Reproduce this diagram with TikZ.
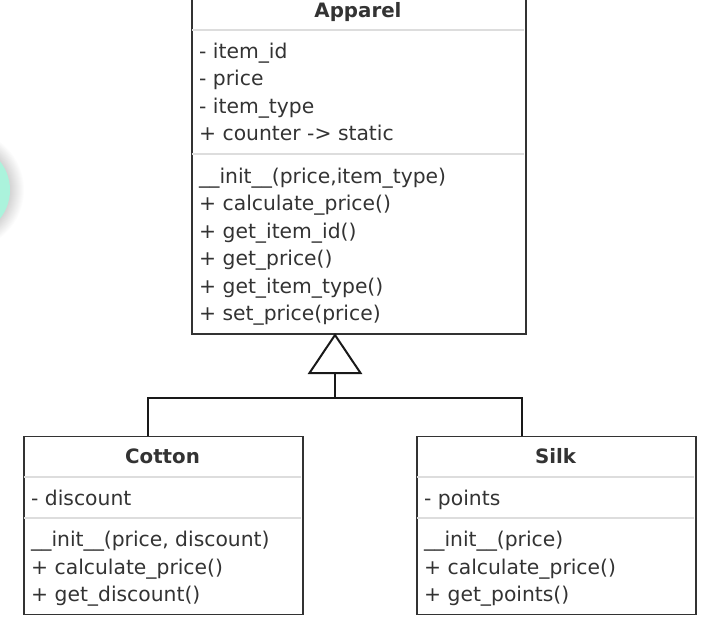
\documentclass[tikz,border=0pt]{standalone}
\usepackage{fontspec}
\setmainfont{DejaVu Sans}
\begin{document}
\begin{tikzpicture}[x=1pt,y=-1pt,
  umlbox/.style={draw=boxc, line width=1.5pt, fill=white, inner sep=0pt, minimum width=#1, anchor=north west},
  sepline/.style={draw=sepc, line width=1.2pt},
  txt/.style={anchor=base west, inner sep=0pt, text=txtc, font=\fontsize{20.3}{24}\selectfont},
  ttl/.style={anchor=base, inner sep=0pt, text=txtc, font=\fontsize{19.8}{24}\selectfont\bfseries},
  conn/.style={draw=black!90, line width=2pt},
]
\definecolor{boxc}{HTML}{333333}
\definecolor{sepc}{HTML}{DDDDDD}
\definecolor{txtc}{HTML}{333333}
\definecolor{mint}{HTML}{ABF3DC}
\useasboundingbox (0,0) rectangle (712,632);
% decorative circle at left edge, with a soft shadow
\foreach \r in {47,48,...,60} {\fill[black,opacity=0.012] (-36,190) circle (\r);}
\fill[mint] (-36,190) circle (46);

% Apparel
\node[umlbox, minimum width=334pt, minimum height=335pt] (apparel) at (191,-2) {};
\draw[sepline] (191.8,30) -- (524.2,30);
\draw[sepline] (191.8,154) -- (524.2,154);
\node[ttl] (aT) at (358,17.5) {Apparel};
\node[txt] (a1) at (199,58) {- item\_id};
\node[txt] (a2) at (199,85.5) {- price};
\node[txt] (a3) at (199,113) {- item\_type};
\node[txt] (a4) at (199,140.5) {+ counter -> static};
\node[txt] (m1) at (199,183) {\_\_init\_\_(price,item\_type)};
\node[txt] (m2) at (199,210.5) {+ calculate\_price()};
\node[txt] (m3) at (199,238) {+ get\_item\_id()};
\node[txt] (m4) at (199,265.5) {+ get\_price()};
\node[txt] (m5) at (199,293) {+ get\_item\_type()};
\node[txt] (m6) at (199,320.5) {+ set\_price(price)};

% Cotton
\node[umlbox, minimum width=279pt, minimum height=178pt] (cotton) at (23,435.5) {};
\draw[sepline] (23.8,477) -- (301.2,477);
\draw[sepline] (23.8,518) -- (301.2,518);
\node[ttl] (cT) at (162.5,463.5) {Cotton};
\node[txt] (c1) at (31,505) {- discount};
\node[txt] (c2) at (31,546.5) {\_\_init\_\_(price, discount)};
\node[txt] (c3) at (31,574) {+ calculate\_price()};
\node[txt] (c4) at (31,601.5) {+ get\_discount()};

% Silk
\node[umlbox, minimum width=279pt, minimum height=178pt] (silk) at (416,435.5) {};
\draw[sepline] (416.8,477) -- (694.2,477);
\draw[sepline] (416.8,518) -- (694.2,518);
\node[ttl] (sT) at (555.5,463.5) {Silk};
\node[txt] (s1) at (424,505) {- points};
\node[txt] (s2) at (424,546.5) {\_\_init\_\_(price)};
\node[txt] (s3) at (424,574) {+ calculate\_price()};
\node[txt] (s4) at (424,601.5) {+ get\_points()};

% generalization connector
\coordinate (apex) at (335,335);
\coordinate (tb) at (335,373);
\coordinate (hj) at (335,398);
\coordinate (cj) at (148,435.5);
\coordinate (sj) at (522,435.5);
\draw[conn] (cj) |- (hj) -| (sj);
\draw[conn] (tb) -- (hj);
\draw[conn, fill=white, line join=miter] (apex) -- (309.5,373) -- (360.5,373) -- cycle;
\end{tikzpicture}
\end{document}
